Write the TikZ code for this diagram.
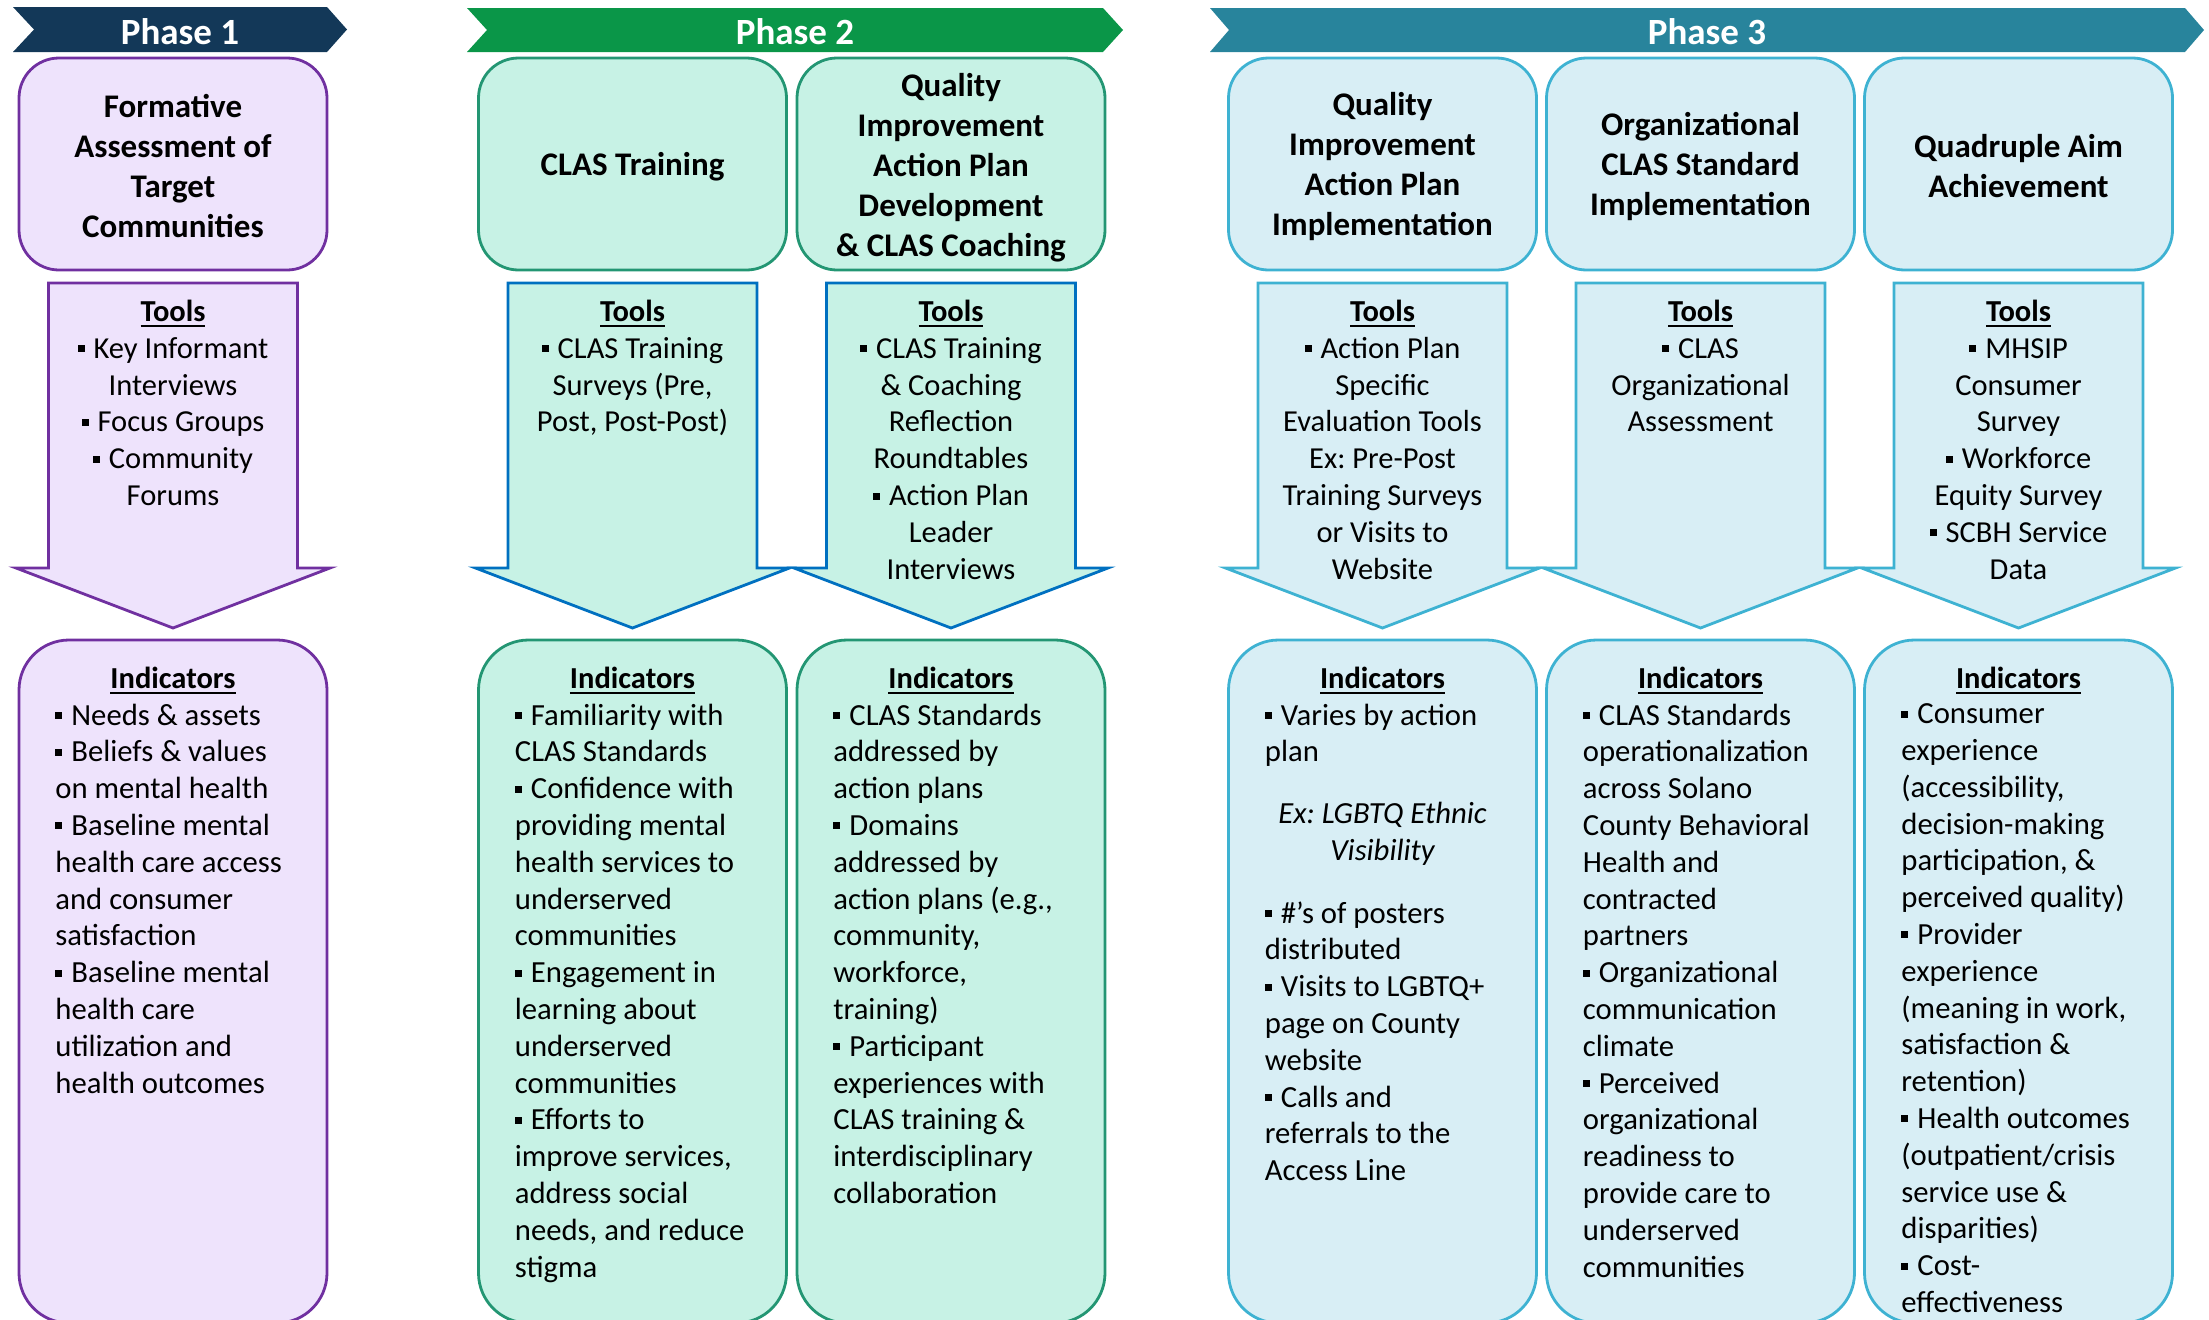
\documentclass[tikz,border=0pt]{standalone}
\usepackage{fontspec}
\setmainfont{Carlito}
\frenchspacing

\definecolor{navyph}{RGB}{19,56,88}
\definecolor{greenph}{RGB}{10,150,72}
\definecolor{tealph}{RGB}{40,132,156}
\definecolor{lavfill}{RGB}{238,227,252}
\definecolor{purpline}{RGB}{112,48,160}
\definecolor{mintfill}{RGB}{199,242,229}
\definecolor{mintline}{RGB}{35,150,115}
\definecolor{blueline}{RGB}{0,112,192}
\definecolor{skyfill}{RGB}{216,238,245}
\definecolor{skyline}{RGB}{62,178,210}

\newcommand{\sqbul}{\rule[6pt]{7pt}{7pt}\hspace{9pt}}
\newcommand{\headu}[1]{\setbox0=\hbox{\bfseries #1}\rlap{\rule[-5.5pt]{\wd0}{2pt}}\box0}

\begin{document}
\begin{tikzpicture}[x=1pt,y=1pt,yscale=-1,xscale=1,line width=2.8pt,
  ph1/.style={draw=purpline,fill=lavfill},
  ph2/.style={draw=mintline,fill=mintfill},
  ph2arrow/.style={draw=blueline,fill=mintfill},
  ph3/.style={draw=skyline,fill=skyfill},
  phasetxt/.style={font=\fontsize{37}{42}\selectfont\bfseries,text=white,inner sep=0pt},
  titletxt/.style={font=\fontsize{33}{40}\selectfont\bfseries,align=center,inner sep=0pt},
  tooltxt/.style={font=\fontsize{30.5}{36.8}\selectfont,align=center,anchor=north,inner sep=0pt},
  indhead/.style={font=\fontsize{30.5}{36.8}\selectfont,anchor=base,inner sep=0pt},
  indtxt/.style={font=\fontsize{30.7}{36.8}\selectfont,align=left,anchor=north west,inner sep=0pt}]
\useasboundingbox (0,0) rectangle (2209,1320);
\clip (0,0) rectangle (2209,1320);

%Shape: Phase banners
\fill [navyph] (13,7) -- (327,7) -- (347,29.5) -- (327,52) -- (13,52) -- (34,29.5) -- cycle ;
\fill [greenph] (467,8) -- (1103,8) -- (1123,30) -- (1103,52) -- (467,52) -- (487,30) -- cycle ;
\fill [tealph] (1210,8) -- (2185,8) -- (2204,30) -- (2185,52) -- (1210,52) -- (1229,30) -- cycle ;

% Text Node
\node [phasetxt] (phase1) at (180,31.5) {Phase 1};
% Text Node
\node [phasetxt] (phase2) at (795,31.5) {Phase 2};
% Text Node
\node [phasetxt] (phase3) at (1707,31.5) {Phase 3};

%Shape: Top boxes
\draw [ph1, rounded corners=40pt] (19,58) rectangle (327,270) ;
\draw [ph2, rounded corners=40pt] (478.5,58) rectangle (786.5,270) ;
\draw [ph2, rounded corners=40pt] (797,58) rectangle (1105,270) ;
\draw [ph3, rounded corners=40pt] (1228.5,58) rectangle (1536.5,270) ;
\draw [ph3, rounded corners=40pt] (1546.5,58) rectangle (1854.5,270) ;
\draw [ph3, rounded corners=40pt] (1864.5,58) rectangle (2172.5,270) ;

%Shape: Tool arrows
\draw [ph1] (48.5,283) -- (297.5,283) -- (297.5,568) -- (330,568) -- (173,628) -- (16,568) -- (48.5,568) -- cycle ;
\draw [ph2arrow] (508,283) -- (757,283) -- (757,568) -- (789.5,568) -- (632.5,628) -- (475.5,568) -- (508,568) -- cycle ;
\draw [ph2arrow] (826.5,283) -- (1075.5,283) -- (1075.5,568) -- (1108,568) -- (951,628) -- (794,568) -- (826.5,568) -- cycle ;
\draw [ph3] (1258,283) -- (1507,283) -- (1507,568) -- (1539.5,568) -- (1382.5,628) -- (1225.5,568) -- (1258,568) -- cycle ;
\draw [ph3] (1576,283) -- (1825,283) -- (1825,568) -- (1857.5,568) -- (1700.5,628) -- (1543.5,568) -- (1576,568) -- cycle ;
\draw [ph3] (1894,283) -- (2143,283) -- (2143,568) -- (2175.5,568) -- (2018.5,628) -- (1861.5,568) -- (1894,568) -- cycle ;

%Shape: Indicator boxes
\draw [ph1, rounded corners=50pt] (19,640) rectangle (327,1323) ;
\draw [ph2, rounded corners=50pt] (478.5,640) rectangle (786.5,1323) ;
\draw [ph2, rounded corners=50pt] (797,640) rectangle (1105,1323) ;
\draw [ph3, rounded corners=50pt] (1228.5,640) rectangle (1536.5,1323) ;
\draw [ph3, rounded corners=50pt] (1546.5,640) rectangle (1854.5,1323) ;
\draw [ph3, rounded corners=50pt] (1864.5,640) rectangle (2172.5,1323) ;

% Text Node
\node [titletxt] (title1) at (173,166.5) {Formative\\Assessment of\\Target\\Communities};
% Text Node
\node [titletxt] (title2) at (632.5,166.5) {CLAS Training};
% Text Node
\node [titletxt] (title3) at (951,167.5) {Quality\\Improvement\\Action Plan\\Development\\\& CLAS Coaching};
% Text Node
\node [titletxt] (title4) at (1382.5,166.5) {Quality\\Improvement\\Action Plan\\Implementation};
% Text Node
\node [titletxt] (title5) at (1700.5,166.5) {Organizational\\CLAS Standard\\Implementation};
% Text Node
\node [titletxt] (title6) at (2018.5,166.5) {Quadruple Aim\\Achievement};

% Text Node
\node [tooltxt] (tools1) at (173,298.7) {\headu{Tools}\\
  \sqbul Key Informant\\
  Interviews\\
  \sqbul Focus Groups\\
  \sqbul Community\\
  Forums};
% Text Node
\node [tooltxt] (tools2) at (632.5,298.7) {\headu{Tools}\\
  \sqbul CLAS Training\\
  Surveys (Pre,\\
  Post, Post-Post)};
% Text Node
\node [tooltxt] (tools3) at (951,298.7) {\headu{Tools}\\
  \sqbul CLAS Training\\
  \& Coaching\\
  Reflection\\
  Roundtables\\
  \sqbul Action Plan\\
  Leader\\
  Interviews};
% Text Node
\node [tooltxt] (tools4) at (1382.5,298.7) {\headu{Tools}\\
  \sqbul Action Plan\\
  Specific\\
  Evaluation Tools\\
  Ex: Pre-Post\\
  Training Surveys\\
  or Visits to\\
  Website};
% Text Node
\node [tooltxt] (tools5) at (1700.5,298.7) {\headu{Tools}\\
  \sqbul CLAS\\
  Organizational\\
  Assessment};
% Text Node
\node [tooltxt] (tools6) at (2018.5,298.7) {\headu{Tools}\\
  \sqbul MHSIP\\
  Consumer\\
  Survey\\
  \sqbul Workforce\\
  Equity Survey\\
  \sqbul SCBH Service\\
  Data};

% Text Node
\node [indhead] (indh1) at (173,688.5) {\headu{Indicators}};
\node [indhead] (indh2) at (632.5,688.5) {\headu{Indicators}};
\node [indhead] (indh3) at (951,688.5) {\headu{Indicators}};
\node [indhead] (indh4) at (1382.5,688.5) {\headu{Indicators}};
\node [indhead] (indh5) at (1700.5,688.5) {\headu{Indicators}};
\node [indhead] (indh6) at (2018.5,688.5) {\headu{Indicators}};

% Text Node
\node [indtxt] (ind1) at (54,702.3) {\sqbul Needs \& assets\\
  \sqbul Beliefs \& values\\
  on mental health\\
  \sqbul Baseline mental\\
  health care access\\
  and consumer\\
  satisfaction\\
  \sqbul Baseline mental\\
  health care\\
  utilization and\\
  health outcomes};
% Text Node
\node [indtxt] (ind2) at (513.5,702.3) {\sqbul Familiarity with\\
  CLAS Standards\\
  \sqbul Confidence with\\
  providing mental\\
  health services to\\
  underserved\\
  communities\\
  \sqbul Engagement in\\
  learning about\\
  underserved\\
  communities\\
  \sqbul Efforts to\\
  improve services,\\
  address social\\
  needs, and reduce\\
  stigma};
% Text Node
\node [indtxt] (ind3) at (832,702.3) {\sqbul CLAS Standards\\
  addressed by\\
  action plans\\
  \sqbul Domains\\
  addressed by\\
  action plans (e.g.,\\
  community,\\
  workforce,\\
  training)\\
  \sqbul Participant\\
  experiences with\\
  CLAS training \&\\
  interdisciplinary\\
  collaboration};
% Text Node
\node [indtxt] (ind4a) at (1263.5,702.3) {\sqbul Varies by action\\
  plan};
% Text Node
\node [indtxt, anchor=north, align=center, font=\fontsize{30.7}{36.8}\selectfont\itshape] (ind4ex) at (1382.5,800.5) {Ex: LGBTQ Ethnic\\
  Visibility};
% Text Node
\node [indtxt] (ind4b) at (1263.5,900) {\sqbul \#’s of posters\\
  distributed\\
  \sqbul Visits to LGBTQ+\\
  page on County\\
  website\\
  \sqbul Calls and\\
  referrals to the\\
  Access Line};
% Text Node
\node [indtxt] (ind5) at (1581.5,702.3) {\sqbul CLAS Standards\\
  operationalization\\
  across Solano\\
  County Behavioral\\
  Health and\\
  contracted\\
  partners\\
  \sqbul Organizational\\
  communication\\
  climate\\
  \sqbul Perceived\\
  organizational\\
  readiness to\\
  provide care to\\
  underserved\\
  communities};
% Text Node
\node [indtxt] (ind6) at (1900,702.3) {\sqbul Consumer\\
  experience\\
  (accessibility,\\
  decision-making\\
  participation, \&\\
  perceived quality)\\
  \sqbul Provider\\
  experience\\
  (meaning in work,\\
  satisfaction \&\\
  retention)\\
  \sqbul Health outcomes\\
  (outpatient/crisis\\
  service use \&\\
  disparities)\\
  \sqbul Cost-\\
  effectiveness};

\end{tikzpicture}
\end{document}
